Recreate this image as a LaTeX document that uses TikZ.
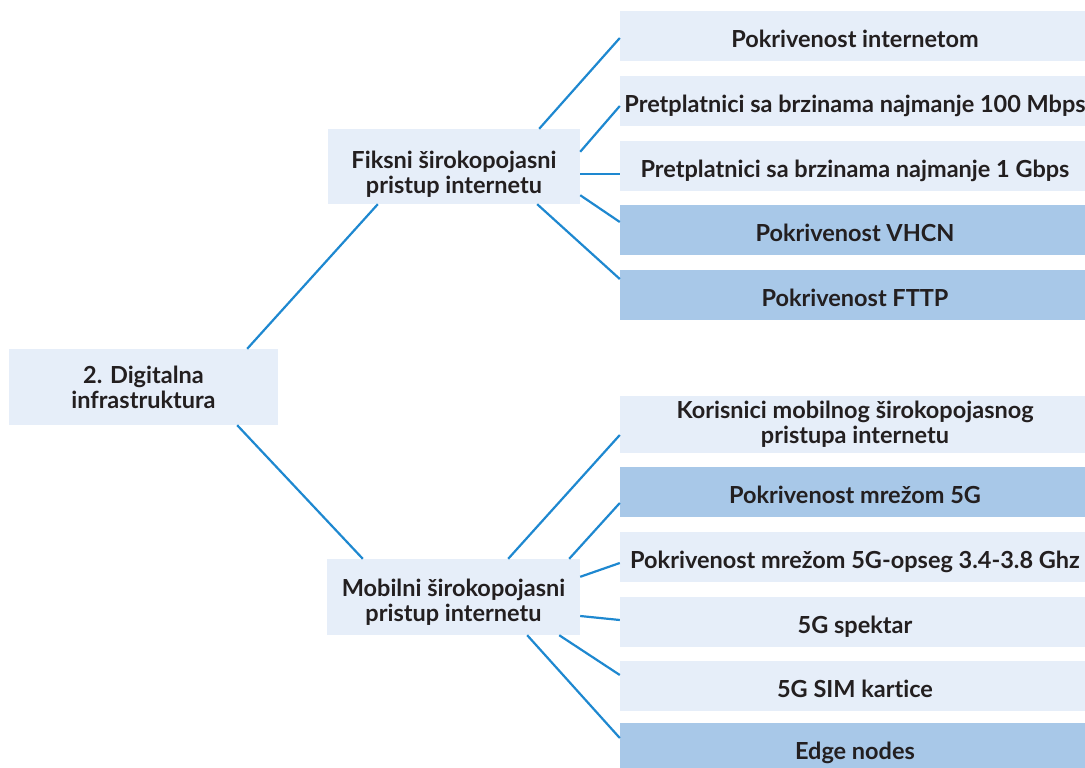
\documentclass[tikz,border=0pt]{standalone}
\usepackage{fontspec}
\setmainfont{Lato}[UprightFont=* Bold, Ligatures=NoCommon]
\definecolor{lightbox}{HTML}{E6EEF9}
\definecolor{darkbox}{HTML}{A8C8E8}
\definecolor{linkblue}{HTML}{1E88D0}
\definecolor{textdark}{HTML}{231F20}

\begin{document}
\begin{tikzpicture}[x=1pt, y=-1pt,
    box/.style={fill=lightbox, text=textdark, inner sep=0pt, align=center, text depth=0pt, font=\fontsize{23.5}{25}\selectfont},
    hub/.style={box, minimum width=252pt, minimum height=75pt},
    leaf/.style={box, minimum width=470pt, minimum height=50pt, text height=23pt},
    dark/.style={fill=darkbox},
    link/.style={draw=linkblue, line width=2.2pt}]
    \useasboundingbox (0,0) rectangle (1085,768);
    \node[box, minimum width=269pt, minimum height=76pt, text height=42pt] (root) at (143.5,387) {2. Digitalna\\infrastruktura};
    \node[hub, text height=53pt] (fiksni) at (454,166.5) {Fiksni širokopojasni\\pristup internetu};
    \node[hub, minimum width=253pt, minimum height=76pt, text height=48pt] (mobilni) at (453.5,597) {Mobilni širokopojasni\\pristup internetu};
    % fiksni
    \node[leaf] (f1) at (855,36) {Pokrivenost internetom};
    \node[leaf] (f2) at (855,101) {Pretplatnici sa brzinama najmanje 100 Mbps};
    \node[leaf] (f3) at (855,166) {Pretplatnici sa brzinama najmanje 1 Gbps};
    \node[leaf, dark] (f4) at (855,229.5) {Pokrivenost VHCN};
    \node[leaf, dark] (f5) at (855,294.5) {Pokrivenost FTTP};
    % mobilni
    \node[box, minimum width=470pt, minimum height=57pt, text height=37pt] (m1) at (855,424.5) {Korisnici mobilnog širokopojasnog\\pristupa internetu};
    \node[leaf, dark] (m2) at (855,492) {Pokrivenost mrežom 5G};
    \node[leaf] (m3) at (855,557) {Pokrivenost mrežom 5G-opseg 3.4-3.8 Ghz};
    \node[leaf] (m4) at (855,622) {5G spektar};
    \node[leaf] (m5) at (855,686) {5G SIM kartice};
    \node[leaf, dark] (m6) at (855,748) {Edge nodes};
    \draw[link] ([xshift=-31pt]root.north east) -- ([xshift=50pt]fiksni.south west);
    \draw[link] ([xshift=-41pt]root.south east) -- ([xshift=36pt]mobilni.north west);
    \draw[link] ([xshift=-41pt]fiksni.north east) -- ([yshift=-2pt]f1.west);
    \draw[link] ([yshift=-23pt]fiksni.north east) -- ([yshift=-5pt]f2.west);
    \draw[link] ([yshift=-7.5pt]fiksni.east) -- ([yshift=-8pt]f3.west);
    \draw[link] ([yshift=9pt]fiksni.south east) -- ([yshift=7.5pt]f4.west);
    \draw[link] ([xshift=-43pt]fiksni.south east) -- ([yshift=15.5pt]f5.west);
    \draw[link] ([xshift=-72pt]mobilni.north east) -- ([yshift=-10.5pt]m1.west);
    \draw[link] ([xshift=-11pt]mobilni.north east) -- ([yshift=-11pt]m2.west);
    \draw[link] ([yshift=-18pt]mobilni.north east) -- ([yshift=-6pt]m3.west);
    \draw[link] ([yshift=-19pt]mobilni.east) -- ([yshift=2pt]m4.west);
    \draw[link] ([xshift=-21pt]mobilni.south east) -- ([yshift=11pt]m5.west);
    \draw[link] ([xshift=-53pt]mobilni.south east) -- ([yshift=10pt]m6.west);
\end{tikzpicture}
\end{document}
